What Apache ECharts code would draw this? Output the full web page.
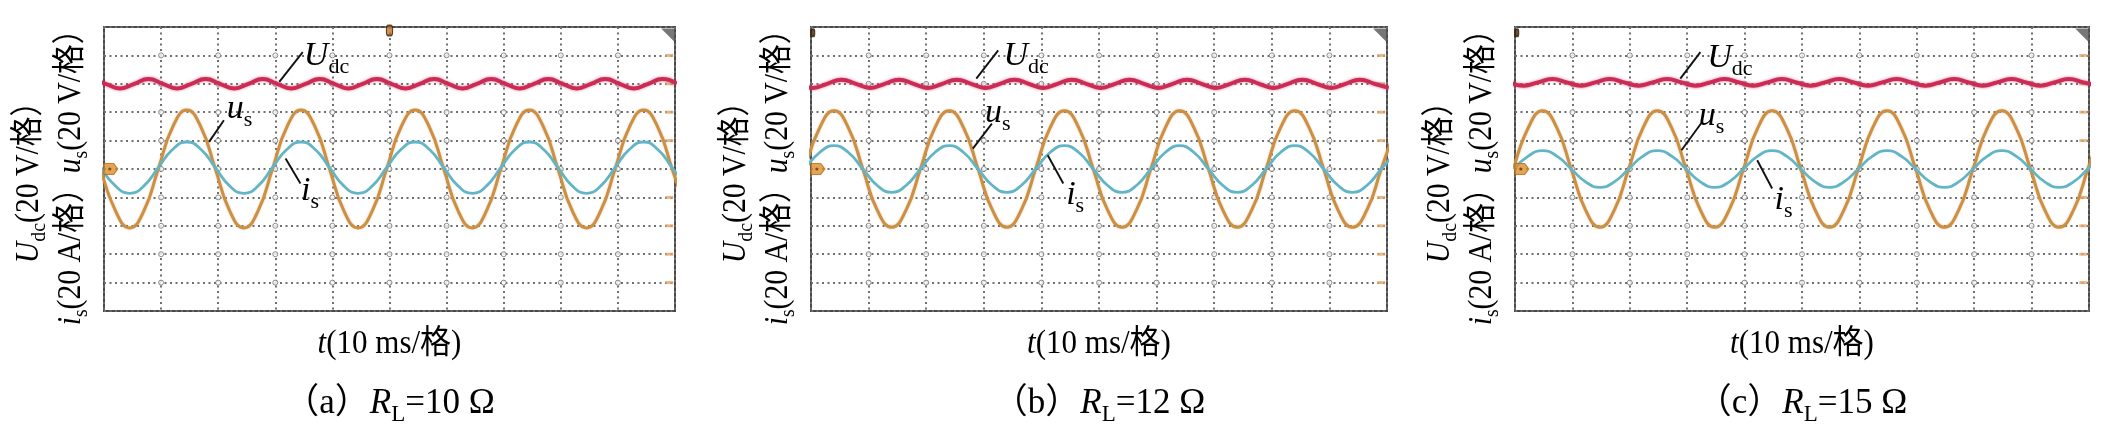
<!DOCTYPE html>
<html><head><meta charset="utf-8">
<script src="https://cdn.jsdelivr.net/npm/echarts/dist/echarts.min.js"></script>
<style>html,body{margin:0;padding:0;background:#fff}#c{width:2105px;height:437px}</style>
</head><body><div id="c"></div>
<script>
// ---- time bases (ms) ----
const tA = [-0.5,2,4.5,7,9.5,12,14.5,17,19.5,22,24.5,27,29.5,32,34.5,37,39.5,42,44.5,47,49.5,52,54.5,57,59.5,62,64.5,67,69.5,72,74.5,77,79.5,82,84.5,87,89.5,92,94.5,97,99.5,102];
const tB = [-1,1.5,4,6.5,9,11.5,14,16.5,19,21.5,24,26.5,29,31.5,34,36.5,39,41.5,44,46.5,49,51.5,54,56.5,59,61.5,64,66.5,69,71.5,74,76.5,79,81.5,84,86.5,89,91.5,94,96.5,99,101.5];
const tC = [-0.2,2.3,4.8,7.3,9.8,12.3,14.8,17.3,19.8,22.3,24.8,27.3,29.8,32.3,34.8,37.3,39.8,42.3,44.8,47.3,49.8,52.3,54.8,57.3,59.8,62.3,64.8,67.3,69.8,72.3,74.8,77.3,79.8,82.3,84.8,87.3,89.8,92.3,94.8,97.3,99.8,102.3];
const tU = [-2.2,0.3,2.8,5.3,7.8,10.3,12.8,15.3,17.8,20.3,22.8,25.3,27.8,30.3,32.8,35.3,37.8,40.3,42.8,45.3,47.8,50.3,52.8,55.3,57.8,60.3,62.8,65.3,67.8,70.3,72.8,75.3,77.8,80.3,82.8,85.3,87.8,90.3,92.8,95.3,97.8,100.3];

// ---- panel (a) R_L = 10 ohm ----
const usA = [0,-29.3,-41.5,-29.3,0,29.3,41.5,29.3, 0,-29.3,-41.5,-29.3,0,29.3,41.5,29.3, 0,-29.3,-41.5,-29.3,0,29.3,41.5,29.3, 0,-29.3,-41.5,-29.3,0,29.3,41.5,29.3, 0,-29.3,-41.5,-29.3,0,29.3,41.5,29.3, 0,-29.3];
const isA = [0.9,-11.9,-17.2,-11.9,0.9,13.7,19.0,13.7, 0.9,-11.9,-17.2,-11.9,0.9,13.7,19.0,13.7, 0.9,-11.9,-17.2,-11.9,0.9,13.7,19.0,13.7, 0.9,-11.9,-17.2,-11.9,0.9,13.7,19.0,13.7, 0.9,-11.9,-17.2,-11.9,0.9,13.7,19.0,13.7, 0.9,-11.9];
const udcA = [63.3,60,56.7,60, 63.3,60,56.7,60, 63.3,60,56.7,60, 63.3,60,56.7,60, 63.3,60,56.7,60, 63.3,60,56.7,60, 63.3,60,56.7,60, 63.3,60,56.7,60, 63.3,60,56.7,60, 63.3,60,56.7,60, 63.3,60];

// ---- panel (b) R_L = 12 ohm ----
const usB = [0,29.0,41,29.0,0,-29.0,-41,-29.0, 0,29.0,41,29.0,0,-29.0,-41,-29.0, 0,29.0,41,29.0,0,-29.0,-41,-29.0, 0,29.0,41,29.0,0,-29.0,-41,-29.0, 0,29.0,41,29.0,0,-29.0,-41,-29.0, 0,29.0];
const isB = [0,11.6,16.4,11.6,0,-11.6,-16.4,-11.6, 0,11.6,16.4,11.6,0,-11.6,-16.4,-11.6, 0,11.6,16.4,11.6,0,-11.6,-16.4,-11.6, 0,11.6,16.4,11.6,0,-11.6,-16.4,-11.6, 0,11.6,16.4,11.6,0,-11.6,-16.4,-11.6, 0,11.6];
const udcB = [60,57.1,60,62.9, 60,57.1,60,62.9, 60,57.1,60,62.9, 60,57.1,60,62.9, 60,57.1,60,62.9, 60,57.1,60,62.9, 60,57.1,60,62.9, 60,57.1,60,62.9, 60,57.1,60,62.9, 60,57.1,60,62.9, 60,57.1];

// ---- panel (c) R_L = 15 ohm ----
const usC = [0,29.0,41,29.0,0,-29.0,-41,-29.0, 0,29.0,41,29.0,0,-29.0,-41,-29.0, 0,29.0,41,29.0,0,-29.0,-41,-29.0, 0,29.0,41,29.0,0,-29.0,-41,-29.0, 0,29.0,41,29.0,0,-29.0,-41,-29.0, 0,29.0];
const isC = [0,9.1,12.9,9.1,0,-9.1,-12.9,-9.1, 0,9.1,12.9,9.1,0,-9.1,-12.9,-9.1, 0,9.1,12.9,9.1,0,-9.1,-12.9,-9.1, 0,9.1,12.9,9.1,0,-9.1,-12.9,-9.1, 0,9.1,12.9,9.1,0,-9.1,-12.9,-9.1, 0,9.1];
const udcC = [61,58.7,61,63.3, 61,58.7,61,63.3, 61,58.7,61,63.3, 61,58.7,61,63.3, 61,58.7,61,63.3, 61,58.7,61,63.3, 61,58.7,61,63.3, 61,58.7,61,63.3, 61,58.7,61,63.3, 61,58.7,61,63.3, 61,58.7];

// ---- ticks / labels ----
const xTicks = [10,20,30,40,50,60,70,80,90];
const yTicks = [-80,-60,-40,-20,0,20,40,60,80];
const panelTags = ['（a）','（b）','（c）'];
const loads = ['10','12','15'];

const panels = [
  {t:tA, us:usA, is:isA, tu:tU, udc:udcA},
  {t:tB, us:usB, is:isB, tu:tU, udc:udcB},
  {t:tC, us:usC, is:isC, tu:tB, udc:udcC}
];

// ---- layout (not data) ----
const layout = [{left:104,width:571},{left:811,width:576},{left:1515,width:574}];
const TOP = 27, H = 284;
const notes = [
  {udc:[35.0,67.3], us:[21.5,30.0], is:[34.5,-27.6],
   lines:[[[34.8,82.3],[30.7,61.3]],[[21.0,34.3],[18.4,19.1]],[[31.8,7.4],[34.4,-10.2]]], trig:[50,97.5], tc:'#c4782a'},
  {udc:[33.4,67.3], us:[30.2,27.2], is:[44.3,-30.5],
   lines:[[[32.5,83.5],[28.7,63.6]],[[31.4,32.0],[28.1,14.4]],[[41.1,9.7],[43.8,-10.2]]], trig:[0.3,96], tc:'#3a230c'},
  {udc:[33.5,65.9], us:[32.0,25.1], is:[45.2,-34.0],
   lines:[[[32.3,82.3],[28.8,63.6]],[[32.6,33.1],[29.0,13.2]],[[42.2,6.2],[44.8,-13.7]]], trig:[0.3,96], tc:'#3a230c'}
];

const SERIF = "'Liberation Serif','Times New Roman','Noto Sans CJK SC',serif";
function makeRich(M, S){
  const P = Math.round(0.8375*(M-S) + 0.2*M);
  const base = {fontFamily:SERIF,color:'#111',verticalAlign:'top'};
  return {
    m:Object.assign({},base,{fontStyle:'italic',fontSize:M,lineHeight:M}),
    d:Object.assign({},base,{fontSize:S,lineHeight:S,padding:[P,0,0,0]}),
    n:Object.assign({},base,{fontSize:M,lineHeight:M})
  };
}
const richNote = makeRich(34,22), richAx = makeRich(33,22), richCap = makeRich(35,23);
const zip = (a,b) => a.map((x,i)=>[x,b[i]]);

const C_UDC='#cc2b55', C_US='#cd8f42', C_IS='#62b5c7';
const grid=[], xAxis=[], yAxis=[], series=[], graphic=[];

panels.forEach((p,i)=>{
  const L = layout[i];
  grid.push({left:L.left, top:TOP, width:L.width, height:H, show:true,
    borderColor:'#4a4a4a', borderWidth:2, outerBoundsMode:'none'});
  const hid = {axisLine:{show:false},axisTick:{show:false},axisLabel:{show:false},
    splitLine:{show:true,lineStyle:{color:'#6f6f6f',width:2,type:[2,3.5]}}};
  xAxis.push(Object.assign({gridIndex:i,type:'value',min:0,max:100,interval:10},hid));
  yAxis.push(Object.assign({gridIndex:i,type:'value',min:-100,max:100,interval:20},hid));
  const ax = {xAxisIndex:i,yAxisIndex:i};
  const cross=[]; xTicks.forEach(x=>yTicks.forEach(y=>cross.push([x,y])));
  series.push(Object.assign({type:'scatter',data:cross,symbol:'circle',symbolSize:5,silent:true,z:1,
    itemStyle:{color:'#fff',borderColor:'#6f6f6f',borderWidth:1}},ax));
  series.push(Object.assign({type:'scatter',data:yTicks.filter(v=>v!==0).map(v=>[99.0,v]),symbol:'rect',
    symbolSize:[8,3],silent:true,z:2,itemStyle:{color:'#e0a66a'}},ax));
  series.push(Object.assign({type:'line',data:zip(p.tu,p.udc),smooth:true,symbol:'none',z:3,silent:true,
    lineStyle:{color:C_UDC,width:4,shadowBlur:3,shadowColor:'rgba(215,70,105,0.7)'}},ax));
  series.push(Object.assign({type:'line',data:zip(p.t,p.us),smooth:true,symbol:'none',z:4,silent:true,
    lineStyle:{color:C_US,width:3,shadowBlur:2,shadowColor:'rgba(200,150,90,0.6)'}},ax));
  series.push(Object.assign({type:'line',data:zip(p.t,p.is),smooth:true,symbol:'none',z:5,silent:true,
    lineStyle:{color:C_IS,width:2.8}},ax));
  series.push(Object.assign({type:'scatter',silent:true,z:6,data:[[1.2,0]],
    symbol:'path://M0,0 L7,0 L10,5 L7,10 L0,10 Z',symbolSize:[14,11],
    itemStyle:{color:'#dd8d2c',borderColor:'#b56a16',borderWidth:1}},ax));
  series.push(Object.assign({type:'scatter',silent:true,z:7,data:[[1.0,0]],symbolSize:3,
    itemStyle:{color:'#6a3a0e'}},ax));
  series.push(Object.assign({type:'scatter',silent:true,z:6,data:[notes[i].trig],symbol:'roundRect',
    symbolSize:i===0?[6,10]:[4,7],itemStyle:{color:notes[i].tc,borderColor:'#3a230c',borderWidth:1.5}},ax));
  series.push(Object.assign({type:'scatter',silent:true,z:6,data:[[98.8,94]],
    symbol:'path://M0,0 L10,0 L10,10 Z',symbolSize:[14,14],itemStyle:{color:'#555'}},ax));
  series.push(Object.assign({type:'lines',coordinateSystem:'cartesian2d',silent:true,z:8,
    data:notes[i].lines.map(c=>({coords:c})),lineStyle:{color:'#111',width:1.9,opacity:1,curveness:0}},ax));

  graphic.push({type:'text',x:L.left-75,y:175,rotation:Math.PI/2,scaleX:0.9,
    style:{text:'{m|U}{d|dc}{n|(20 V/格）}',rich:richAx,align:'center',verticalAlign:'middle'}});
  graphic.push({type:'text',x:L.left-33,y:170,rotation:Math.PI/2,scaleX:0.9,
    style:{text:'{m|i}{d|s}{n|(20 A/格）}{m|u}{d|s}{n|(20 V/格）}',rich:richAx,align:'center',verticalAlign:'middle'}});
  graphic.push({type:'text',x:L.left+L.width/2,y:344,scaleX:0.94,
    style:{text:'{m|t}{n|(10 ms/格)}',rich:richAx,align:'center',verticalAlign:'middle'}});
  graphic.push({type:'text',x:L.left+L.width/2,y:404,
    style:{text:'{n|'+panelTags[i]+'}{m|R}{d|L}{n|='+loads[i]+' Ω}',rich:richCap,align:'center',verticalAlign:'middle'}});
});

const chart = echarts.init(document.getElementById('c'), null, {renderer:'canvas'});
chart.setOption({animation:false, backgroundColor:'#fff', grid, xAxis, yAxis, series});
// trace labels placed through each panel's axes
panels.forEach((p,i)=>{
  [['udc','{m|U}{d|dc}'],['us','{m|u}{d|s}'],['is','{m|i}{d|s}']].forEach(([k,txt])=>{
    const px = chart.convertToPixel({gridIndex:i}, notes[i][k]);
    graphic.push({type:'text',x:px[0],y:px[1],z:10,
      style:{text:txt,rich:richNote,align:'left',verticalAlign:'bottom'}});
  });
});
chart.setOption({graphic});
</script></body></html>
